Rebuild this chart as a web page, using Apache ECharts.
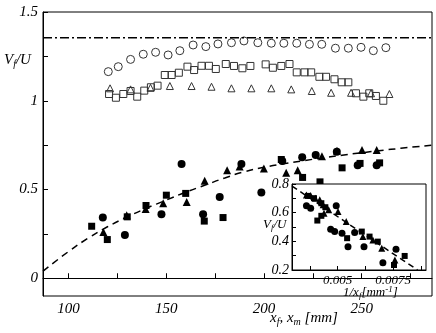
<!DOCTYPE html>
<html>
<head>
<meta charset="utf-8">
<script src="https://cdn.jsdelivr.net/npm/echarts@6/dist/echarts.min.js"></script>
<style>
  html, body { margin: 0; padding: 0; background: #fff; }
  #chart { width: 436px; height: 333px; }
</style>
</head>
<body>
<div id="chart"></div>
<script>
// main plot: tick labels
const mainXLabels = [100, 150, 200, 250]
const mainXTicks = [100, 125, 150, 175, 200, 225, 250, 275]
const mainYLabels = [0, 0.5, 1, 1.5]
const mainYTicks = [0, 0.25, 0.5, 0.75, 1, 1.25, 1.5]

// open symbols (upper group)
const openCircleX = [120.4, 125.5, 131.8, 138.3, 144.6, 151.0, 157.0, 163.8, 170.3, 176.5, 183.4, 189.8, 196.9, 203.8, 210.2, 216.8, 223.3, 229.6, 236.6, 243.2, 249.7, 256.0, 262.4]
const openCircleY = [1.164, 1.192, 1.233, 1.262, 1.273, 1.258, 1.282, 1.314, 1.305, 1.320, 1.327, 1.337, 1.327, 1.324, 1.324, 1.324, 1.318, 1.318, 1.296, 1.296, 1.301, 1.282, 1.299]
const openSquareX = [120.8, 124.3, 128.1, 131.8, 135.2, 138.8, 142.2, 145.6, 149.3, 152.8, 156.5, 160.9, 164.3, 168.1, 171.9, 175.4, 180.5, 184.7, 189.0, 193.1, 200.9, 204.6, 208.9, 213.1, 216.8, 220.8, 224.2, 228.4, 231.8, 236.1, 239.8, 243.2, 247.1, 250.9, 253.9, 257.3, 261.1]
const openSquareY = [1.038, 1.017, 1.038, 1.055, 1.023, 1.057, 1.076, 1.085, 1.145, 1.145, 1.158, 1.192, 1.173, 1.197, 1.197, 1.179, 1.207, 1.196, 1.183, 1.196, 1.205, 1.186, 1.196, 1.207, 1.160, 1.160, 1.160, 1.135, 1.135, 1.121, 1.104, 1.104, 1.042, 1.023, 1.042, 1.027, 1.000]
const openTriangleX = [121.3, 131.8, 142.0, 151.9, 163.0, 173.2, 183.4, 193.6, 203.8, 214.0, 224.5, 234.4, 244.6, 254.8, 264.2]
const openTriangleY = [1.070, 1.064, 1.073, 1.083, 1.083, 1.079, 1.070, 1.070, 1.070, 1.064, 1.055, 1.045, 1.045, 1.042, 1.038]

// filled symbols (lower group)
const fillCircleX = [117.6, 128.9, 147.6, 157.9, 168.9, 177.4, 188.5, 198.7, 209.4, 219.6, 226.5, 237.3, 248.0, 257.7]
const fillCircleY = [0.342, 0.243, 0.361, 0.643, 0.361, 0.458, 0.643, 0.483, 0.660, 0.681, 0.695, 0.712, 0.637, 0.637]
const fillTriangleX = [117.9, 129.8, 139.5, 148.5, 160.5, 169.7, 181.2, 187.6, 200.0, 211.4, 217.3, 229.7, 237.4, 250.2, 257.7]
const fillTriangleY = [0.261, 0.355, 0.390, 0.423, 0.430, 0.549, 0.609, 0.630, 0.619, 0.594, 0.609, 0.688, 0.718, 0.722, 0.722]
const fillSquareX = [111.9, 119.9, 130.1, 139.7, 150.1, 160.0, 169.5, 179.1, 208.9, 219.8, 228.7, 240.0, 249.2, 259.2]
const fillSquareY = [0.293, 0.218, 0.346, 0.410, 0.468, 0.478, 0.322, 0.342, 0.669, 0.568, 0.543, 0.622, 0.647, 0.650]

// dashed fit curve and dash-dot level
const fitX = [87, 100, 110, 120, 130, 140, 150, 160, 170, 180, 190, 200, 210, 220, 230, 240, 250, 260, 270, 286]
const fitY = [0.04, 0.15, 0.225, 0.29, 0.345, 0.395, 0.44, 0.485, 0.525, 0.565, 0.60, 0.625, 0.645, 0.662, 0.678, 0.693, 0.707, 0.72, 0.732, 0.75]
const levelX = [87, 286]
const levelY = [1.355, 1.355]

// inset: tick labels
const insetXLabels = [0.005, 0.0075]
const insetXTicks = [0.00375, 0.005, 0.00625, 0.0075, 0.00875]
const insetYLabels = [0.2, 0.4, 0.6, 0.8]

// inset data
const inTriangleX = [0.00360, 0.00379, 0.00400, 0.00420, 0.00435, 0.00460, 0.00502, 0.00539, 0.00439, 0.00614, 0.00659, 0.00699, 0.00758]
const inTriangleY = [0.724, 0.720, 0.701, 0.690, 0.655, 0.620, 0.608, 0.538, 0.596, 0.433, 0.410, 0.352, 0.270]
const inCircleX = [0.00360, 0.00379, 0.00494, 0.00469, 0.00487, 0.00520, 0.00577, 0.00547, 0.00619, 0.00763, 0.00704]
const inCircleY = [0.648, 0.631, 0.648, 0.485, 0.468, 0.457, 0.461, 0.363, 0.363, 0.345, 0.251]
const inSquareX = [0.00367, 0.00394, 0.00427, 0.00445, 0.00409, 0.00427, 0.00609, 0.00543, 0.00644, 0.00681, 0.00802, 0.00754]
const inSquareY = [0.717, 0.701, 0.666, 0.638, 0.545, 0.578, 0.468, 0.422, 0.433, 0.398, 0.298, 0.235]
const inFitX = [0.00295, 0.0086]
const inFitY = [0.785, 0.2]

const zip = (xs, ys) => xs.map((x, i) => [x, ys[i]])

const serif = 'Liberation Serif'
const labelStyle = (size) => ({
  fontFamily: serif,
  fontStyle: 'italic',
  fontSize: size,
  color: '#000',
})

const axisBase = {
  type: 'value',
  axisLine: { show: true, lineStyle: { color: '#000', width: 1 } },
  splitLine: { show: false },
}

const chart = echarts.init(document.getElementById('chart'))

const scatter = (name, data, symbol, size, open, xi, z) => ({
  name,
  type: 'scatter',
  xAxisIndex: xi,
  yAxisIndex: xi,
  data,
  symbol,
  symbolSize: size,
  z,
  silent: true,
  itemStyle: open
    ? { color: 'rgba(255,255,255,0)', borderColor: '#333', borderWidth: 1, opacity: 1 }
    : { color: '#000', opacity: 1 },
})

chart.setOption({
  animation: false,
  grid: [
    { left: 43, top: 12, right: 4, bottom: 37, show: true, borderColor: '#000', borderWidth: 1, backgroundColor: 'transparent' },
    { left: 292, top: 184, width: 134, height: 86, show: true, borderColor: '#000', borderWidth: 1, backgroundColor: '#fff', z: 3 },
  ],
  xAxis: [
    {
      ...axisBase,
      gridIndex: 0,
      min: 87,
      max: 286,
      axisTick: { inside: true, length: 5, customValues: mainXTicks, lineStyle: { color: '#000' } },
      axisLabel: { ...labelStyle(15), margin: 6, customValues: mainXLabels },
    },
    {
      ...axisBase,
      gridIndex: 1,
      z: 5,
      min: 0.00295,
      max: 0.00898,
      axisTick: { inside: true, length: 4, customValues: insetXTicks, lineStyle: { color: '#000' } },
      axisLabel: { ...labelStyle(13), margin: 4, customValues: insetXLabels },
    },
  ],
  yAxis: [
    {
      ...axisBase,
      gridIndex: 0,
      min: -0.1,
      max: 1.5,
      axisTick: { inside: true, length: 5, customValues: mainYTicks, lineStyle: { color: '#000' } },
      axisLabel: { ...labelStyle(15), margin: 5, customValues: mainYLabels },
    },
    {
      ...axisBase,
      gridIndex: 1,
      z: 5,
      min: 0.2,
      max: 0.8,
      interval: 0.1,
      axisTick: { inside: true, length: 4, lineStyle: { color: '#000' } },
      axisLabel: { ...labelStyle(14), margin: 3, customValues: insetYLabels },
    },
  ],
  graphic: [
    {
      type: 'text',
      left: 4,
      top: 53,
      z: 10,
      style: {
        text: '{v|V}{s|f}{v|/U}',
        rich: {
          v: { ...labelStyle(15) },
          s: { ...labelStyle(10), padding: [8, 0, 0, 0] },
        },
      },
    },
    {
      type: 'text',
      left: 270,
      top: 311,
      z: 10,
      style: {
        text: '{v|x}{s|f}{v|, x}{s|m}{v| [mm]}',
        rich: {
          v: { ...labelStyle(15) },
          s: { ...labelStyle(10), padding: [8, 0, 0, 0] },
        },
      },
    },
    {
      type: 'text',
      left: 263,
      top: 218,
      z: 10,
      style: {
        text: '{v|V}{s|f}{v|/U}',
        rich: {
          v: { ...labelStyle(13) },
          s: { ...labelStyle(9), padding: [7, 0, 0, 0] },
        },
      },
    },
    {
      type: 'text',
      left: 343,
      top: 285,
      z: 10,
      style: {
        text: '{v|1/x}{s|f}{v|[mm}{p|-1}{v|]}',
        rich: {
          v: { ...labelStyle(13) },
          s: { ...labelStyle(9), padding: [7, 0, 0, 0] },
          p: { ...labelStyle(9), padding: [0, 0, 6, 0] },
        },
      },
    },
  ],
  series: [
    {
      type: 'line',
      xAxisIndex: 0,
      yAxisIndex: 0,
      data: zip(levelX, levelY),
      symbol: 'none',
      silent: true,
      lineStyle: { color: '#000', width: 1.5, type: [9, 3, 2, 3] },
    },
    {
      type: 'line',
      xAxisIndex: 0,
      yAxisIndex: 0,
      data: zip(fitX, fitY),
      symbol: 'none',
      smooth: true,
      silent: true,
      lineStyle: { color: '#000', width: 1.5, type: [7, 5] },
    },
    scatter('open circle', zip(openCircleX, openCircleY), 'circle', 8, true, 0, 2),
    scatter('open square', zip(openSquareX, openSquareY), 'rect', 7, true, 0, 2),
    scatter('open triangle', zip(openTriangleX, openTriangleY), 'triangle', 7, true, 0, 2),
    scatter('circle', zip(fillCircleX, fillCircleY), 'circle', 8, false, 0, 2),
    scatter('square', zip(fillSquareX, fillSquareY), 'rect', 7, false, 0, 2),
    scatter('triangle', zip(fillTriangleX, fillTriangleY), 'triangle', 8, false, 0, 2),
    {
      type: 'line',
      xAxisIndex: 1,
      yAxisIndex: 1,
      data: zip(inFitX, inFitY),
      symbol: 'none',
      silent: true,
      z: 6,
      lineStyle: { color: '#000', width: 1.5, type: [6, 4] },
    },
    scatter('inset circle', zip(inCircleX, inCircleY), 'circle', 7, false, 1, 6),
    scatter('inset square', zip(inSquareX, inSquareY), 'rect', 6, false, 1, 6),
    scatter('inset triangle', zip(inTriangleX, inTriangleY), 'triangle', 7, false, 1, 6),
  ],
})
</script>
</body>
</html>
